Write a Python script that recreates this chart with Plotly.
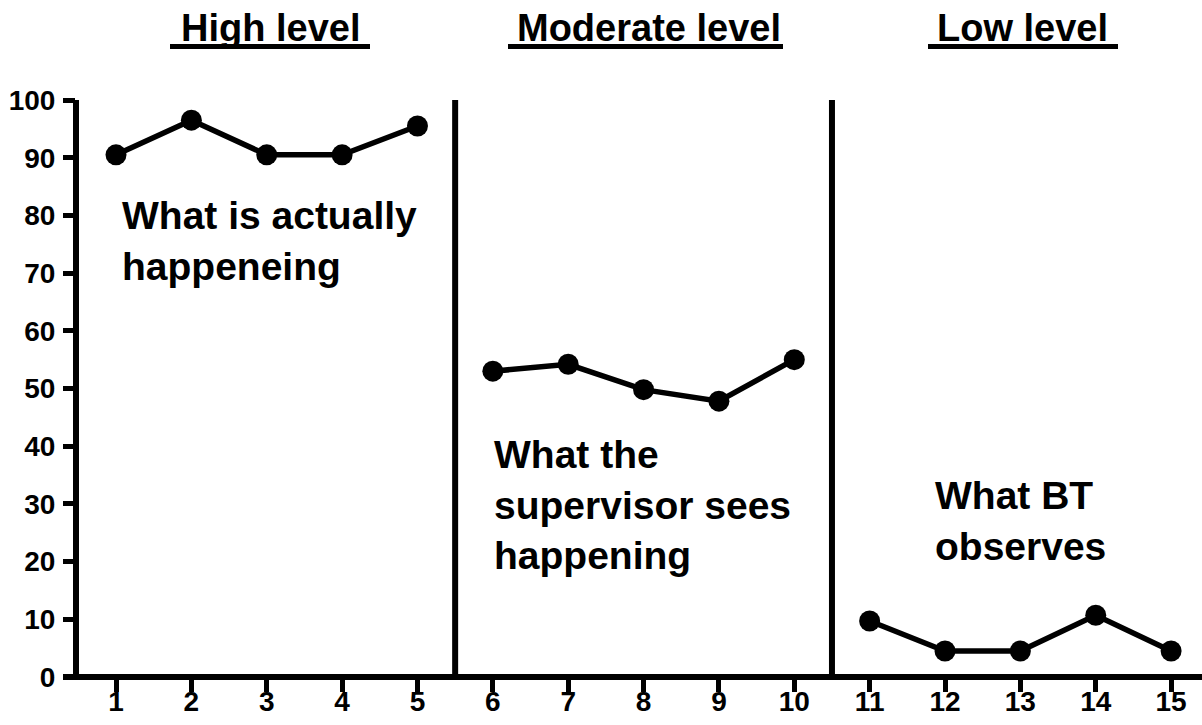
import plotly.graph_objects as go

# Data
sessions_high = [1, 2, 3, 4, 5]
values_high = [90.5, 96.5, 90.5, 90.5, 95.5]
sessions_mod = [6, 7, 8, 9, 10]
values_mod = [53, 54.2, 49.8, 47.8, 55]
sessions_low = [11, 12, 13, 14, 15]
values_low = [9.7, 4.5, 4.5, 10.7, 4.5]

phase_titles = ["High level", "Moderate level", "Low level"]
phase_title_x = [3.05, 8.07, 13.03]
phase_boundaries = [5.5, 10.5]
notes = ["What is actually<br>happeneing", "What the<br>supervisor sees<br>happening", "What BT<br>observes"]
notes_x = [1.05, 5.99, 11.84]
notes_y = [75.6, 29.8, 27.0]

x_ticks = list(range(1, 16))
y_ticks = list(range(0, 101, 10))

FONT = "Liberation Sans"

fig = go.Figure()
for xs, ys in [(sessions_high, values_high), (sessions_mod, values_mod), (sessions_low, values_low)]:
    fig.add_trace(go.Scatter(
        x=xs, y=ys, mode="lines+markers",
        line=dict(color="black", width=5.5),
        marker=dict(color="black", size=21),
        showlegend=False, cliponaxis=False,
    ))

for b in phase_boundaries:
    fig.add_shape(type="line", xref="x", yref="y", x0=b, x1=b, y0=0, y1=101,
                  line=dict(color="black", width=6))

# axis lines
fig.add_shape(type="line", xref="paper", yref="paper", x0=-13/1126, x1=1, y0=0, y1=0,
              line=dict(color="black", width=6))
fig.add_shape(type="line", xref="paper", yref="paper", x0=0, x1=0, y0=0, y1=1,
              line=dict(color="black", width=6))

for t, tx in zip(phase_titles, phase_title_x):
    fig.add_annotation(x=tx, xref="x", y=1.0, yref="paper", yshift=72,
                       text="<b>" + t + "</b>", showarrow=False,
                       font=dict(family=FONT, size=38, color="black"),
                       xanchor="center", yanchor="middle")

underlines = [(170, 370), (508, 783), (928, 1118)]
for x0p, x1p in underlines:
    fig.add_shape(type="line", xref="paper", yref="paper",
                  x0=(x0p - 76) / 1126, x1=(x1p - 76) / 1126,
                  y0=(677 - 46.5) / 577, y1=(677 - 46.5) / 577,
                  line=dict(color="black", width=5))

for t, nx, ny in zip(notes, notes_x, notes_y):
    fig.add_annotation(x=nx, y=ny, xref="x", yref="y", text="<b>" + t + "</b>",
                       showarrow=False, align="left", xanchor="left", yanchor="middle",
                       font=dict(family=FONT, size=39, color="black"))

fig.update_layout(
    width=1202, height=725,
    margin=dict(l=76, r=0, t=100, b=48, autoexpand=False),
    paper_bgcolor="white", plot_bgcolor="white",
    xaxis=dict(range=[0.469, 15.41], tickvals=x_ticks, ticktext=[str(v) for v in x_ticks],
               showgrid=False, zeroline=False, showline=False, automargin=False,
               ticks="outside", ticklen=14, tickwidth=5, tickcolor="black",
               ticklabelstandoff=-15,
               tickfont=dict(family=FONT, size=28, color="black", weight="bold")),
    yaxis=dict(range=[0, 100], tickvals=y_ticks, ticktext=[str(v) for v in y_ticks],
               showgrid=False, zeroline=False, showline=False, automargin=False,
               ticks="outside", ticklen=12, tickwidth=5, tickcolor="black",
               ticklabelstandoff=2,
               tickfont=dict(family=FONT, size=28, color="black", weight="bold")),
)

fig.write_html("out.html", config={"displayModeBar": False},
               post_script="document.body.style.margin='0';document.body.style.overflow='hidden';")
